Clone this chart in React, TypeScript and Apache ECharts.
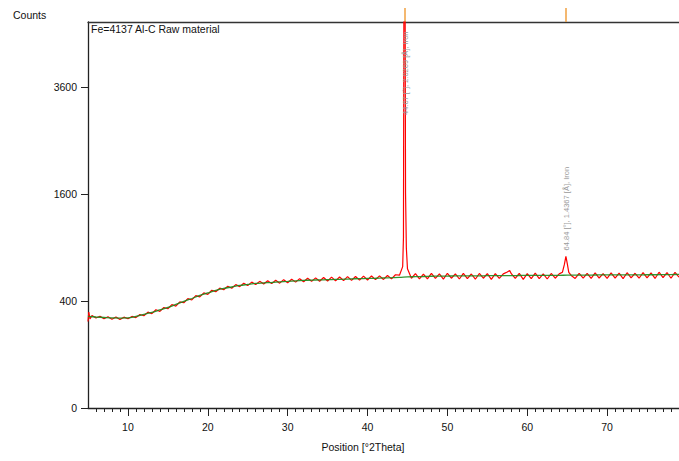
import { useEffect, useRef } from "react";
import * as echarts from "echarts";

const xTickLabels = [10, 20, 30, 40, 50, 60, 70];
const xMinorTicks = [
  6, 7, 8, 9, 11, 12, 13, 14, 15, 16, 17, 18, 19, 21, 22, 23, 24, 25, 26, 27, 28, 29,
  31, 32, 33, 34, 35, 36, 37, 38, 39, 41, 42, 43, 44, 45, 46, 47, 48, 49, 51, 52, 53,
  54, 55, 56, 57, 58, 59, 61, 62, 63, 64, 65, 66, 67, 68, 69, 71, 72, 73, 74, 75, 76,
  77, 78, 79,
];
const yTickCounts = [0, 400, 1600, 3600];

// background (green) curve
const bgPositions = [
  5, 6, 7, 8, 9, 10, 11, 12, 13, 14, 15, 16, 17, 18, 19, 20, 21, 22, 23, 24, 25, 26, 27,
  28, 29, 30, 31, 32, 33, 34, 35, 36, 37, 38, 39, 40, 41, 42, 43, 44, 45, 46, 47, 48, 49,
  50, 51, 52, 53, 54, 55, 56, 57, 58, 59, 60, 61, 62, 63, 64, 65, 66, 67, 68, 69, 70, 71,
  72, 73, 74, 75, 76, 77, 78, 79,
];
const bgCounts = [
  294, 290, 287, 284, 283, 284, 294, 307, 320, 337, 354, 376, 398, 420, 444, 464, 484, 501,
  513, 526, 535, 544, 548, 552, 557, 561, 566, 570, 573, 575, 577, 579, 581, 584, 586, 588,
  590, 593, 595, 597, 602, 604, 606, 608, 609, 610, 611, 611, 612, 612, 613, 613, 614, 614,
  615, 616, 616, 617, 617, 617, 618, 618, 619, 619, 620, 620, 620, 621, 621, 621, 622, 622,
  623, 624, 625,
];

// measured scan (red)
const scanPositions = [
  5.0, 5.1, 5.25, 5.5, 6.0, 6.5, 7.0, 7.5, 8.0, 8.5, 9.0, 9.5, 10.0, 10.5, 11.0, 11.5, 12.0,
  12.5, 13.0, 13.5, 14.0, 14.5, 15.0, 15.5, 16.0, 16.5, 17.0, 17.5, 18.0, 18.5, 19.0, 19.5,
  20.0, 20.5, 21.0, 21.5, 22.0, 22.5, 23.0, 23.5, 24.0, 24.5, 25.0, 25.5, 26.0, 26.5, 27.0,
  27.5, 28.0, 28.5, 29.0, 29.5, 30.0, 30.5, 31.0, 31.5, 32.0, 32.5, 33.0, 33.5, 34.0, 34.5,
  35.0, 35.5, 36.0, 36.5, 37.0, 37.5, 38.0, 38.5, 39.0, 39.5, 40.0, 40.5, 41.0, 41.5, 42.0,
  42.5, 43.0, 43.5, 44.0, 44.4, 44.5, 44.56, 44.7, 44.76, 44.86, 45.0, 45.5, 46.0, 46.5,
  47.0, 47.5, 48.0, 48.5, 49.0, 49.5, 50.0, 50.5, 51.0, 51.5, 52.0, 52.5, 53.0, 53.5, 54.0,
  54.5, 55.0, 55.5, 56.0, 56.5, 57.0, 57.5, 57.8, 58.0, 58.5, 59.0, 59.5, 60.0, 60.5, 61.0,
  61.5, 62.0, 62.5, 63.0, 63.5, 64.0, 64.4, 64.65, 64.84, 65.0, 65.2, 65.5, 66.0, 66.5, 67.0,
  67.5, 68.0, 68.5, 69.0, 69.5, 70.0, 70.5, 71.0, 71.5, 72.0, 72.5, 73.0, 73.5, 74.0, 74.5,
  75.0, 75.5, 76.0, 76.5, 77.0, 77.5, 78.0, 78.5, 79.0,
];
const scanCounts = [
  262, 322, 278, 300, 284, 295, 279, 292, 276, 290, 274, 289, 279, 294, 286, 306, 298,
  322, 312, 338, 327, 354, 345, 375, 364, 395, 388, 419, 409, 442, 433, 464,
  452, 486, 474, 503, 490, 520, 502, 533, 516, 545, 525, 555, 534, 562, 538,
  567, 542, 572, 546, 577, 550, 581, 555, 586, 558, 590, 562, 593, 563, 597,
  565, 600, 566, 601, 569, 605, 571, 606, 573, 609, 574, 611, 577, 612, 579,
  615, 584, 622, 618, 700, 1020, 6500, 6500, 1615, 900, 680, 590, 632, 585,
  628, 584, 634, 588, 630, 582, 636, 590, 631, 583, 635, 586, 629, 581, 634,
  590, 632, 580, 633, 588, 630, 648, 662, 632, 588, 635, 580, 632, 586, 637,
  587, 631, 583, 634, 590, 630, 645, 722, 805, 735, 645, 616, 588, 636, 590,
  635, 588, 639, 592, 633, 589, 640, 591, 638, 587, 641, 594, 636, 590, 642,
  593, 639, 588, 646, 595, 643, 590, 645, 600,
];

const peakPositions = [44.67, 64.84];
const peakHeights = [6500, 805];
const peakLabels = ["44.67 [°], 2.0269 [Å], Iron", "64.84 [°], 1.4367 [Å], Iron"];

const X_MIN = 5;
const X_MAX = 79;
const Y_MAX_COUNTS = 5220;
const FONT = "Liberation Sans, Arial, sans-serif";

export default function App() {
  const ref = useRef<HTMLDivElement>(null);

  useEffect(() => {
    if (!ref.current) return;
    const chart = echarts.init(ref.current, undefined, { renderer: "svg" });
    const sq = (c: number) => Math.sqrt(c);
    const yTickVals = yTickCounts.map(sq);

    const baseGraphics = [
      {
        type: "text",
        left: 13,
        top: 9,
        style: { text: "Counts", fill: "#111", font: `10.5px ${FONT}` },
      },
      {
        type: "text",
        left: 91,
        top: 23,
        style: { text: "Fe=4137 Al-C Raw material", fill: "#111", font: `10.5px ${FONT}` },
      },
      {
        type: "text",
        x: 363,
        y: 447,
        style: {
          text: "Position [°2Theta]",
          fill: "#111",
          font: `10.5px ${FONT}`,
          align: "center",
          verticalAlign: "middle",
        },
      },
    ];

    chart.setOption({
      animation: false,
      backgroundColor: "#ffffff",
      grid: { left: 88, top: 22, width: 591, height: 386 },
      xAxis: [
        {
          type: "value",
          position: "bottom",
          min: X_MIN,
          max: X_MAX,
          axisLine: { show: true, onZero: false, lineStyle: { color: "#222", width: 1.3 } },
          axisTick: {
            show: true,
            customValues: xTickLabels,
            length: 8,
            lineStyle: { color: "#222", width: 1 },
          },
          axisLabel: {
            customValues: xTickLabels,
            color: "#111",
            fontSize: 10.5,
            fontFamily: FONT,
            margin: 13,
          },
          splitLine: { show: false },
        },
        {
          type: "value",
          position: "bottom",
          min: X_MIN,
          max: X_MAX,
          axisLine: { show: false },
          axisTick: {
            show: true,
            customValues: xMinorTicks,
            length: 4,
            lineStyle: { color: "#222", width: 1 },
          },
          axisLabel: { show: false },
          splitLine: { show: false },
        },
        {
          type: "value",
          position: "top",
          min: X_MIN,
          max: X_MAX,
          axisLine: { show: true, onZero: false, lineStyle: { color: "#333", width: 1.3 } },
          axisTick: {
            show: true,
            customValues: peakPositions,
            length: 14,
            lineStyle: { color: "#f0a040", width: 1.5 },
          },
          axisLabel: { show: false },
          splitLine: { show: false },
        },
      ],
      yAxis: {
        type: "value",
        min: 0,
        max: sq(Y_MAX_COUNTS),
        axisLine: { show: true, onZero: false, lineStyle: { color: "#222", width: 1.3 } },
        axisTick: {
          show: true,
          customValues: yTickVals,
          length: 7,
          lineStyle: { color: "#222", width: 1 },
        },
        axisLabel: {
          customValues: yTickVals,
          formatter: (v: number) => String(Math.round(v * v)),
          color: "#111",
          fontSize: 10.5,
          fontFamily: FONT,
          margin: 11,
        },
        splitLine: { show: false },
      },
      series: [
        {
          type: "line",
          name: "scan",
          xAxisIndex: 0,
          data: scanPositions.map((x, i) => [x, sq(scanCounts[i])]),
          symbol: "none",
          clip: true,
          lineStyle: { color: "#ff0000", width: 1.2 },
          z: 2,
        },
        {
          type: "line",
          name: "background",
          xAxisIndex: 0,
          data: bgPositions.map((x, i) => [x, sq(bgCounts[i])]),
          symbol: "none",
          smooth: 0.3,
          clip: true,
          lineStyle: { color: "#1c8a1c", width: 1.3, opacity: 0.9 },
          z: 3,
        },
      ],
      graphic: baseGraphics,
    });

    const topPx = chart.convertToPixel({ xAxisIndex: 0, yAxisIndex: 0 }, [X_MIN, sq(Y_MAX_COUNTS)]) as number[];
    const labelGraphics = peakPositions.map((p, i) => {
      const pt = chart.convertToPixel({ xAxisIndex: 0, yAxisIndex: 0 }, [p, sq(peakHeights[i])]) as number[];
      const startY = Math.max(pt[1] - 6, topPx[1] + 93);
      return {
        type: "text",
        x: pt[0] + 1,
        y: startY,
        rotation: Math.PI / 2,
        z: 10,
        style: {
          text: peakLabels[i],
          fill: "#9a9a9a",
          font: `7.5px ${FONT}`,
          align: "left",
          verticalAlign: "middle",
        },
      };
    });
    chart.setOption(
      { graphic: [...baseGraphics, ...labelGraphics] },
      { replaceMerge: ["graphic"] }
    );

    return () => chart.dispose();
  }, []);

  return (
    <div
      ref={ref}
      style={{ position: "fixed", left: 0, top: 0, width: 679, height: 461 }}
    />
  );
}
